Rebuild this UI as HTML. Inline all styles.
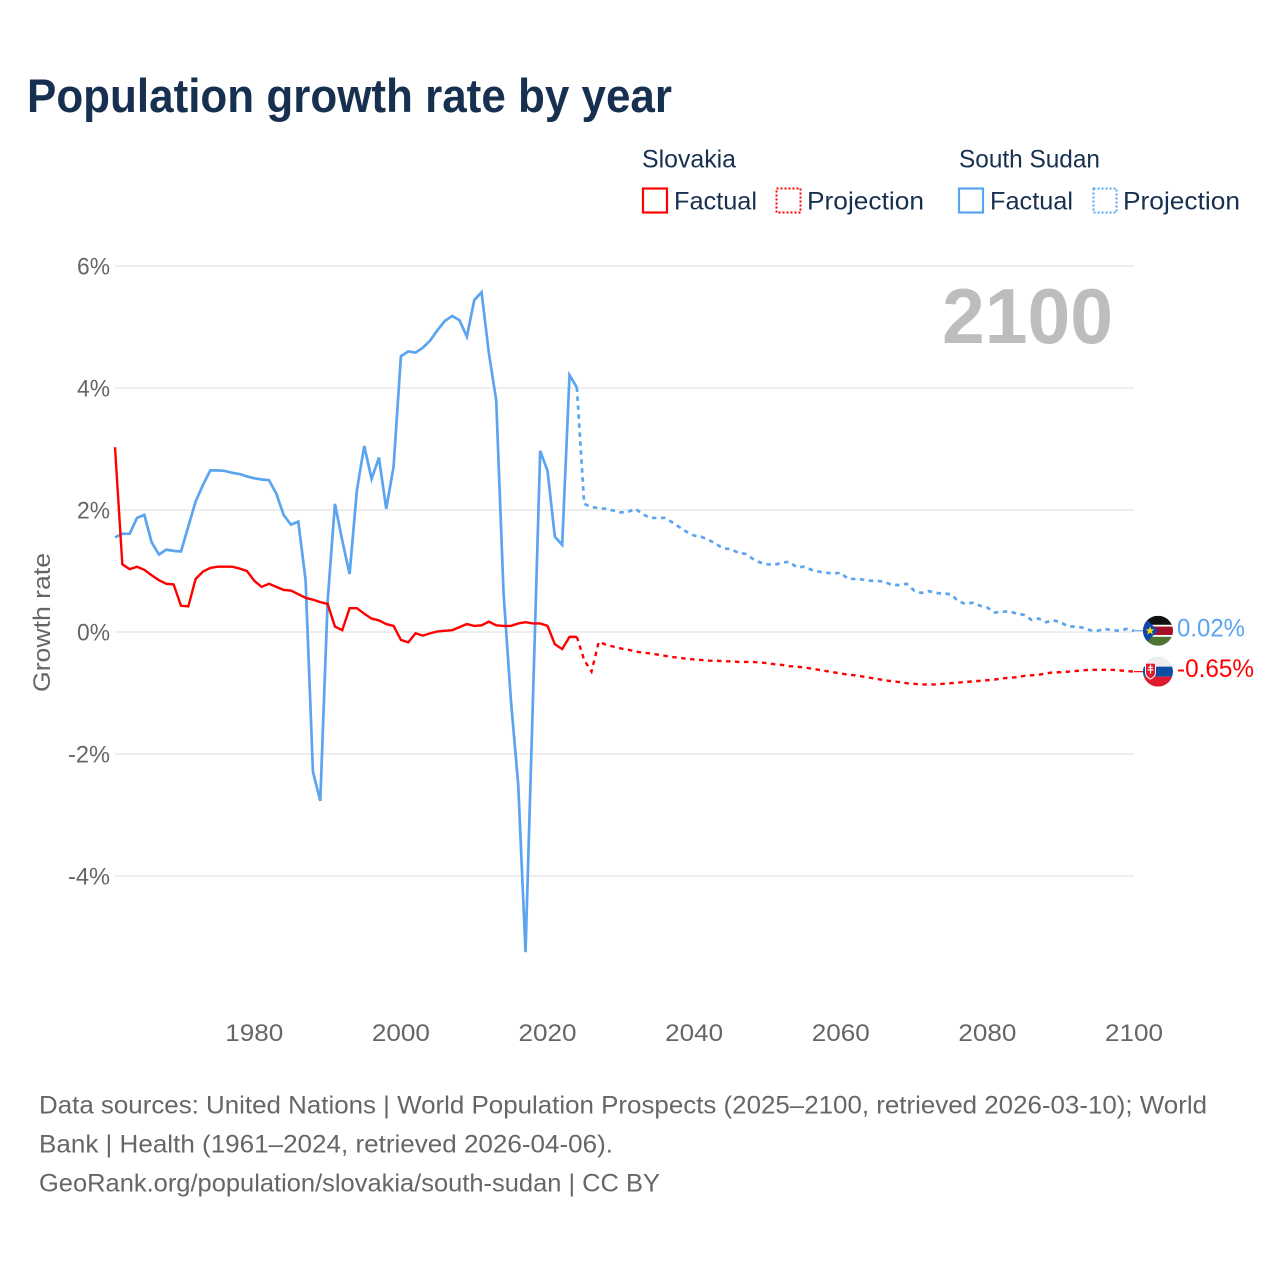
<!DOCTYPE html>
<html lang="en">
<head>
<meta charset="utf-8">
<title>Population growth rate by year</title>
<style>
html,body{margin:0;padding:0;background:#fff;width:1280px;height:1280px;overflow:hidden}
svg{display:block}
text{font-family:"Liberation Sans",sans-serif}
.leg{font-size:25px;fill:#18304f}
.foot{font-size:25px;fill:#666}
.tick{font-size:24px;fill:#666}
</style>
</head>
<body>
<svg id="chart" width="1280" height="1280" viewBox="0 0 1280 1280" xmlns="http://www.w3.org/2000/svg">
  <rect width="1280" height="1280" fill="#fff"/>
  <text x="27" y="112" font-size="47" font-weight="700" fill="#18304f" textLength="645" lengthAdjust="spacingAndGlyphs">Population growth rate by year</text>

  <g>
    <text class="leg" x="642" y="167.5" textLength="94" lengthAdjust="spacingAndGlyphs">Slovakia</text>
    <text class="leg" x="959" y="167.5" textLength="141" lengthAdjust="spacingAndGlyphs">South Sudan</text>
    <rect x="643" y="188.5" width="24" height="24" fill="none" stroke="#ff0000" stroke-width="2.2"/>
    <text class="leg" x="674" y="209.5" textLength="83" lengthAdjust="spacingAndGlyphs">Factual</text>
    <rect x="776.5" y="188.5" width="24" height="24" fill="none" stroke="#ff0000" stroke-width="2" stroke-dasharray="2 2"/>
    <text class="leg" x="807" y="209.5" textLength="117" lengthAdjust="spacingAndGlyphs">Projection</text>
    <rect x="959" y="188.5" width="24" height="24" fill="none" stroke="#5ba4ef" stroke-width="2.2"/>
    <text class="leg" x="990" y="209.5" textLength="83" lengthAdjust="spacingAndGlyphs">Factual</text>
    <rect x="1093.5" y="188.5" width="23" height="24" fill="none" stroke="#5ba4ef" stroke-width="2" stroke-dasharray="2 2"/>
    <text class="leg" x="1123" y="209.5" textLength="117" lengthAdjust="spacingAndGlyphs">Projection</text>
  </g>

  <g id="grid"></g>
  <g id="yticks"></g>
  <g id="xticks"></g>
  <text class="tick" transform="translate(50,692) rotate(-90)" x="0" y="0" textLength="139" lengthAdjust="spacingAndGlyphs">Growth rate</text>
  <text x="942" y="343" font-size="78" font-weight="700" fill="#bdbdbd" textLength="171" lengthAdjust="spacingAndGlyphs">2100</text>

  <g id="series"></g>
  <g id="ends"></g>

  <defs>
    <clipPath id="clip-ss"><circle cx="0" cy="0" r="15"/></clipPath>
    <clipPath id="clip-sk"><circle cx="0" cy="0" r="15"/></clipPath>
  </defs>

  <g id="flag-south-sudan">
    <g clip-path="url(#clip-ss)">
      <rect x="-15" y="-15" width="30" height="10" fill="#111"/>
      <rect x="-15" y="-5" width="30" height="10" fill="#a50f2b"/>
      <rect x="-15" y="5" width="30" height="10" fill="#4f7332"/>
      <rect x="-15" y="-6" width="30" height="1.8" fill="#fff"/>
      <rect x="-15" y="4.2" width="30" height="1.8" fill="#fff"/>
      <polygon points="-15,-15 -15,15 0,0" fill="#0f47af"/>
      <polygon points="-8,-4.5 -6.8,-1.4 -3.6,-1.4 -6.1,0.6 -5.2,3.8 -8,1.9 -10.8,3.8 -9.9,0.6 -12.4,-1.4 -9.2,-1.4" fill="#fcdd09"/>
    </g>
  </g>
  <g id="flag-slovakia">
    <g clip-path="url(#clip-sk)">
      <rect x="-15" y="-15" width="30" height="10" fill="#eeeeee"/>
      <rect x="-15" y="-5" width="30" height="10" fill="#0b4ea2"/>
      <rect x="-15" y="5" width="30" height="10" fill="#dc1b2e"/>
      <path d="M-13,-9 H-2 V1 Q-2,5.5 -7.5,8 Q-13,5.5 -13,1 Z" fill="#fff"/>
      <path d="M-12,-8 H-3 V1 Q-3,4.5 -7.5,6.8 Q-12,4.5 -12,1 Z" fill="#dc1b2e"/>
      <rect x="-8.1" y="-7" width="1.2" height="9" fill="#fff"/>
      <rect x="-9.8" y="-5" width="4.6" height="1.2" fill="#fff"/>
      <rect x="-10.4" y="-2.4" width="5.8" height="1.2" fill="#fff"/>
    </g>
  </g>

  <g>
    <text class="foot" x="39" y="1113.5" textLength="1168" lengthAdjust="spacingAndGlyphs">Data sources: United Nations | World Population Prospects (2025–2100, retrieved 2026-03-10); World</text>
    <text class="foot" x="39" y="1152.5" textLength="574" lengthAdjust="spacingAndGlyphs">Bank | Health (1961–2024, retrieved 2026-04-06).</text>
    <text class="foot" x="39" y="1191.5" textLength="621" lengthAdjust="spacingAndGlyphs">GeoRank.org/population/slovakia/south-sudan | CC BY</text>
  </g>
</svg>

<script>
const xTickYears = [1980, 2000, 2020, 2040, 2060, 2080, 2100];
const yTickValues = [6, 4, 2, 0, -2, -4];

const factualStartYear = 1961;
const projectionStartYear = 2024;

const slovakiaFactual = [
  3.03,1.11,1.03,1.07,1.02,0.93,0.85,0.79,0.78,0.43,
  0.42,0.87,0.99,1.05,1.07,1.07,1.07,1.04,1.00,0.84,
  0.74,0.79,0.74,0.69,0.68,0.62,0.56,0.53,0.49,0.46,
  0.09,0.03,0.39,0.39,0.30,0.22,0.19,0.13,0.10,-0.13,
  -0.17,-0.02,-0.06,-0.02,0.01,0.02,0.03,0.08,0.13,0.10,
  0.11,0.17,0.11,0.10,0.10,0.14,0.16,0.14,0.14,0.10,
  -0.20,-0.28,-0.08,-0.08
];
const slovakiaProjection = [
  -0.08,
  -0.46,-0.65,-0.16,-0.21,-0.24,-0.27,
  -0.29,-0.32,-0.34,-0.35,-0.37,-0.39,-0.41,-0.42,-0.44,-0.45,
  -0.46,-0.47,-0.47,-0.48,-0.48,-0.49,-0.49,-0.49,-0.50,-0.51,
  -0.53,-0.54,-0.56,-0.57,-0.58,-0.60,-0.62,-0.64,-0.66,-0.68,
  -0.70,-0.71,-0.73,-0.75,-0.77,-0.79,-0.81,-0.82,-0.84,-0.85,
  -0.86,-0.86,-0.86,-0.85,-0.84,-0.83,-0.82,-0.81,-0.80,-0.79,
  -0.78,-0.76,-0.75,-0.74,-0.72,-0.71,-0.70,-0.68,-0.66,-0.66,
  -0.65,-0.64,-0.63,-0.62,-0.62,-0.62,-0.62,-0.63,-0.64,-0.65
];
const southSudanFactual = [
  1.55,1.61,1.61,1.87,1.92,1.47,1.27,1.35,1.33,1.32,
  1.73,2.14,2.41,2.65,2.65,2.64,2.61,2.59,2.55,2.52,
  2.50,2.49,2.27,1.92,1.76,1.81,0.85,-2.29,-2.77,0.50,
  2.10,1.50,0.95,2.33,3.05,2.51,2.86,2.02,2.71,4.52,
  4.60,4.58,4.66,4.78,4.95,5.10,5.18,5.11,4.84,5.44,
  5.57,4.57,3.80,0.64,-1.11,-2.50,-5.25,-1.15,2.97,2.64,
  1.56,1.43,4.21,4.01
];
const southSudanProjection = [
  4.01,
  2.10,2.05,2.03,2.02,1.99,1.96,
  1.97,2.02,1.93,1.87,1.87,1.87,1.80,1.72,1.64,1.58,
  1.56,1.51,1.44,1.37,1.36,1.30,1.28,1.20,1.14,1.11,
  1.10,1.14,1.15,1.06,1.07,1.02,0.99,0.97,0.96,0.97,
  0.87,0.87,0.86,0.84,0.84,0.82,0.77,0.77,0.79,0.68,
  0.64,0.67,0.64,0.63,0.62,0.51,0.46,0.48,0.43,0.40,
  0.32,0.33,0.34,0.30,0.28,0.20,0.22,0.16,0.19,0.16,
  0.09,0.09,0.07,0.03,0.02,0.05,0.03,0.02,0.05,0.02
];
const endLabelSlovakia = "-0.65%";
const endLabelSouthSudan = "0.02%";

const NS = "http://www.w3.org/2000/svg";
const X_AT_1961 = 115, PX_PER_YEAR = 1019 / 139;
const Y_AT_ZERO = 632, PX_PER_UNIT = 61;
const xScale = year => X_AT_1961 + (year - 1961) * PX_PER_YEAR;
const yScale = value => Y_AT_ZERO - value * PX_PER_UNIT;
const RED = "#ff0000", BLUE = "#5ba4ef";

function make(tag, attrs, parent, text) {
  const el = document.createElementNS(NS, tag);
  for (const k in attrs) el.setAttribute(k, attrs[k]);
  if (text !== undefined) el.textContent = text;
  parent.appendChild(el);
  return el;
}

const gridGroup = document.getElementById("grid");
const yTickGroup = document.getElementById("yticks");
yTickValues.forEach(v => {
  const line = make("line", {x1: 115, x2: 1134, y1: yScale(v), y2: yScale(v), stroke: "#eeeeee", "stroke-width": 2}, gridGroup);
  
  
  const label = v + "%";
  const t = make("text", {class: "tick", x: 110, y: yScale(v) + 8.5, "text-anchor": "end", textLength: v < 0 ? 42 : 33, lengthAdjust: "spacingAndGlyphs"}, yTickGroup, label);
  
  
});

const xTickGroup = document.getElementById("xticks");
xTickYears.forEach(y => {
  const t = make("text", {class: "tick", x: xScale(y), y: 1041, "text-anchor": "middle", textLength: 58, lengthAdjust: "spacingAndGlyphs"}, xTickGroup, String(y));
  
  
});

function pathFrom(values, startYear) {
  return values.map((v, i) => (i ? "L" : "M") + xScale(startYear + i).toFixed(2) + " " + yScale(v).toFixed(2)).join(" ");
}

const seriesGroup = document.getElementById("series");

const ssProj = make("path", {d: pathFrom(southSudanProjection, projectionStartYear), fill: "none", stroke: BLUE, "stroke-width": 2.7, "stroke-dasharray": "4.5 4.5"}, seriesGroup);



const skProj = make("path", {d: pathFrom(slovakiaProjection, projectionStartYear), fill: "none", stroke: RED, "stroke-width": 2.4, "stroke-dasharray": "4.5 4.5"}, seriesGroup);



const ssFact = make("path", {d: pathFrom(southSudanFactual, factualStartYear), fill: "none", stroke: BLUE, "stroke-width": 2.7}, seriesGroup);



const skFact = make("path", {d: pathFrom(slovakiaFactual, factualStartYear), fill: "none", stroke: RED, "stroke-width": 2.4}, seriesGroup);



const endsGroup = document.getElementById("ends");
const FLAG_X = 1158, END_X = xScale(2100);

const ssLastY = yScale(southSudanProjection[southSudanProjection.length - 1]);
const skLastY = yScale(slovakiaProjection[slovakiaProjection.length - 1]);

const ssConn = make("line", {x1: END_X, x2: FLAG_X - 14, y1: ssLastY, y2: ssLastY, stroke: BLUE, "stroke-width": 1.2}, endsGroup);



const skConn = make("line", {x1: END_X, x2: FLAG_X - 14, y1: skLastY, y2: skLastY, stroke: RED, "stroke-width": 1.2}, endsGroup);



const ssLabel = make("text", {x: 1177, y: ssLastY + 5.5, "font-size": 25, fill: BLUE, textLength: 68, lengthAdjust: "spacingAndGlyphs"}, endsGroup, endLabelSouthSudan);



const skLabel = make("text", {x: 1177, y: skLastY + 5.5, "font-size": 25, fill: RED, textLength: 77, lengthAdjust: "spacingAndGlyphs"}, endsGroup, endLabelSlovakia);



document.getElementById("flag-south-sudan").setAttribute("transform", "translate(" + FLAG_X + "," + ssLastY + ")");
document.getElementById("flag-slovakia").setAttribute("transform", "translate(" + FLAG_X + "," + skLastY + ")");
</script>
</body>
</html>
